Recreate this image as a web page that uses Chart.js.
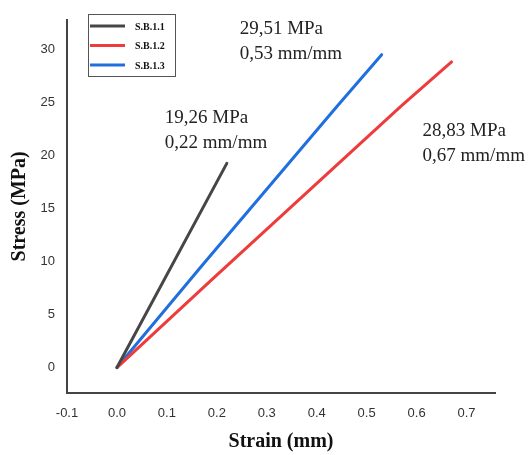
<!DOCTYPE html>
<html>
<head>
<meta charset="utf-8">
<script src="https://cdn.jsdelivr.net/npm/chart.js@4/dist/chart.umd.min.js"></script>
<style>
html,body{margin:0;padding:0;background:#fff;}
#wrap{width:528px;height:455px;position:relative;}
</style>
</head>
<body>
<div id="wrap"><canvas id="c" width="528" height="455"></canvas></div>
<script>
// ---- data ----
const seriesLabels = ['S.B.1.1', 'S.B.1.2', 'S.B.1.3'];
const strain11 = [0, 0.22];
const stress11 = [0, 19.26];
const strain12 = [0, 0.19, 0.57, 0.67];
const stress12 = [0, 8.3, 24.7, 28.83];
const strain13 = [0, 0.17, 0.44, 0.53];
const stress13 = [0, 9.6, 24.6, 29.51];
const xTicks = [-0.1, 0.0, 0.1, 0.2, 0.3, 0.4, 0.5, 0.6, 0.7];
const yTicks = [0, 5, 10, 15, 20, 25, 30];
const peakStress = [19.26, 28.83, 29.51];
const peakStrain = [0.22, 0.67, 0.53];

const colors = ['#464646', '#ee3b3b', '#1f6fdf'];
const toPts = (xs, ys) => xs.map((x, i) => ({x: x, y: ys[i]}));
const fmt = v => v.toFixed(2).replace('.', ',');

// annotation label offsets from each series' end point (pixels)
const annoOffsets = [[-62, -40], [-29, 74], [-142, -21]];

const overlay = {
  id: 'overlay',
  afterDatasetsDraw(chart) {
    const ctx = chart.ctx;
    const xs = chart.scales.x, ys = chart.scales.y;
    ctx.save();
    // annotations
    ctx.fillStyle = '#222';
    ctx.font = '19px "Liberation Serif", "Times New Roman", serif';
    ctx.textAlign = 'left';
    ctx.textBaseline = 'alphabetic';
    for (let i = 0; i < 3; i++) {
      const px = xs.getPixelForValue(peakStrain[i]);
      const py = ys.getPixelForValue(peakStress[i]);
      const tx = px + annoOffsets[i][0], ty = py + annoOffsets[i][1];
      ctx.fillText(fmt(peakStress[i]) + ' MPa', tx, ty);
      ctx.fillText(fmt(peakStrain[i]) + ' mm/mm', tx, ty + 25);
    }
    // legend box
    const lx = 88, ly = 14, lw = 87, lh = 62;
    ctx.strokeStyle = '#555';
    ctx.lineWidth = 1;
    ctx.strokeRect(lx + 0.5, ly + 0.5, lw, lh);
    ctx.font = 'bold 10px "Liberation Serif", "Times New Roman", serif';
    ctx.textBaseline = 'middle';
    chart.data.datasets.forEach((ds, i) => {
      const y = ly + 12 + i * 19.5;
      ctx.strokeStyle = ds.borderColor;
      ctx.lineWidth = 3;
      ctx.beginPath();
      ctx.moveTo(lx + 2, y);
      ctx.lineTo(lx + 37, y);
      ctx.stroke();
      ctx.fillStyle = '#111';
      ctx.fillText(ds.label, lx + 47, y + 1);
    });
    ctx.restore();
  }
};

new Chart(document.getElementById('c'), {
  type: 'line',
  data: {
    datasets: [
      {label: seriesLabels[0], data: toPts(strain11, stress11), borderColor: colors[0], backgroundColor: colors[0]},
      {label: seriesLabels[1], data: toPts(strain12, stress12), borderColor: colors[1], backgroundColor: colors[1]},
      {label: seriesLabels[2], data: toPts(strain13, stress13), borderColor: colors[2], backgroundColor: colors[2]}
    ]
  },
  options: {
    responsive: false,
    animation: false,
    parsing: false,
    elements: {
      line: {borderWidth: 3, tension: 0, borderCapStyle: 'round'},
      point: {radius: 0}
    },
    layout: {padding: {top: 13, right: 33, left: 0, bottom: 0}},
    plugins: {legend: {display: false}, tooltip: {enabled: false}},
    scales: {
      x: {
        type: 'linear',
        min: -0.1,
        max: 0.757,
        afterBuildTicks: axis => { axis.ticks = xTicks.map(v => ({value: v})); },
        afterFit: axis => { axis.height = 62; },
        grid: {display: false, drawTicks: false},
        border: {display: true, color: '#444', width: 2},
        ticks: {
          padding: 13,
          color: '#333',
          font: {family: '"Liberation Sans", Arial, sans-serif', size: 13},
          callback: v => v.toFixed(1),
          maxRotation: 0,
          autoSkip: false
        },
        title: {
          display: true,
          text: 'Strain (mm)',
          color: '#111',
          font: {family: '"Liberation Serif", "Times New Roman", serif', size: 20, weight: 'bold'},
          padding: {top: 0, bottom: 1}
        }
      },
      y: {
        type: 'linear',
        min: -2.4,
        max: 32.8,
        afterBuildTicks: axis => { axis.ticks = yTicks.map(v => ({value: v})); },
        afterFit: axis => { axis.width = 67; },
        grid: {display: false, drawTicks: false},
        border: {display: true, color: '#444', width: 2},
        ticks: {
          padding: 12,
          color: '#333',
          font: {family: '"Liberation Sans", Arial, sans-serif', size: 13},
          autoSkip: false
        },
        title: {
          display: true,
          text: 'Stress (MPa)',
          color: '#111',
          font: {family: '"Liberation Serif", "Times New Roman", serif', size: 20, weight: 'bold'},
          padding: {top: 8, bottom: 0}
        }
      }
    }
  },
  plugins: [overlay]
});
</script>
</body>
</html>
